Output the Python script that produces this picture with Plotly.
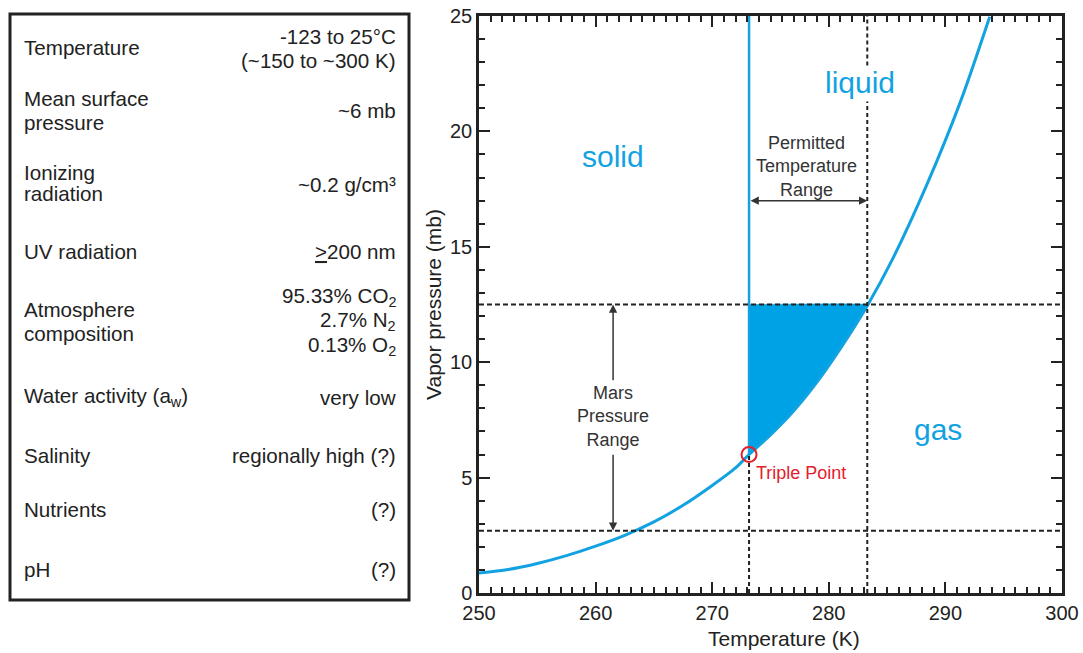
import plotly.graph_objects as go

W, H = 1083, 653

# ---------------- data ----------------
curve_T = [250, 252.5, 255, 257.5, 260, 262.5, 265, 267.5, 270, 272, 273.16,
           275, 277, 279, 281, 283.3, 285.5, 288.4, 291.3, 293.8]
curve_P = [0.87, 1.02, 1.28, 1.62, 2.03, 2.50, 3.08, 3.80, 4.66, 5.42, 6.0,
           6.85, 7.9, 9.15, 10.6, 12.45, 14.5, 17.68, 21.3, 24.97]
triple_T, triple_P = 273.16, 6.0
melt_top_P = 25
mars_P_range = [2.7, 12.5]
permit_T_range = [273.16, 283.3]
phase_labels = ["solid", "liquid", "gas"]
phase_T = [261.5, 282.7, 289.4]
phase_P = [18.9, 22.1, 7.1]

table_labels = ["Temperature", "Mean surface", "pressure", "Ionizing", "radiation",
                "UV radiation", "Atmosphere", "composition",
                "Water activity (a<sub>w</sub>)", "Salinity", "Nutrients", "pH"]
table_values = ["-123 to 25°C", "(~150 to ~300 K)", "~6 mb", "~0.2 g/cm³",
                "<u>&gt;</u>200 nm", "95.33% CO<sub>2</sub>", "2.7% N<sub>2</sub>",
                "0.13% O<sub>2</sub>", "very low", "regionally high (?)", "(?)", "(?)"]

# ---------------- layout helpers (pixel positions) ----------------
label_y = [47, 99, 122, 172, 194, 252, 309, 333, 397, 455, 509, 569]
value_y = [36, 60, 111, 184, 252, 297, 321, 346, 397, 455, 509, 569]

FONT = "Liberation Sans, Arial, Helvetica, sans-serif"
BLUE = "#12a2e2"
FILL = "#00a2e6"
RED = "#e4202b"
DARK = "#222222"
TXT = "#333333"


def px(x):
    return x / W


def py(y):
    return 1 - y / H


fig = go.Figure()

# Permitted liquid region fill
sel = [i for i, t in enumerate(curve_T) if triple_T < t <= permit_T_range[1]]
fill_x = [triple_T] + [curve_T[i] for i in sel] + [permit_T_range[1], triple_T]
fill_y = [triple_P] + [curve_P[i] for i in sel] + [mars_P_range[1], mars_P_range[1]]
fig.add_trace(go.Scatter(x=fill_x, y=fill_y, fill="toself", fillcolor=FILL,
                         line=dict(width=0.5, color=FILL, shape="spline", smoothing=0.4),
                         mode="lines", hoverinfo="skip"))

# vapour pressure curve
fig.add_trace(go.Scatter(x=curve_T, y=curve_P, mode="lines",
                         line=dict(color=BLUE, width=3, shape="spline", smoothing=0.8)))
# melting line
fig.add_trace(go.Scatter(x=[triple_T, triple_T], y=[triple_P, melt_top_P], mode="lines",
                         line=dict(color=BLUE, width=2.5)))

# dashed guide lines
dash_h = dict(color=DARK, width=2, dash="5px,3px")
dash_v = dict(color=DARK, width=2, dash="4px,3px")
shapes = []
for p in mars_P_range:
    shapes.append(dict(type="line", xref="x", yref="y", x0=250, x1=300, y0=p, y1=p, line=dash_h))
shapes.append(dict(type="line", xref="x", yref="y", x0=permit_T_range[1], x1=permit_T_range[1],
                   y0=0, y1=21.3, line=dash_v))
shapes.append(dict(type="line", xref="x", yref="y", x0=permit_T_range[1], x1=permit_T_range[1],
                   y0=22.85, y1=25, line=dash_v))
shapes.append(dict(type="line", xref="x", yref="y", x0=triple_T, x1=triple_T,
                   y0=0, y1=triple_P, line=dash_v))
# table box
shapes.append(dict(type="rect", xref="paper", yref="paper", x0=px(10), x1=px(409),
                   y0=py(600), y1=py(14), line=dict(color=DARK, width=3)))

# triple point marker
fig.add_trace(go.Scatter(x=[triple_T], y=[triple_P], mode="markers",
                         marker=dict(symbol="circle-open", size=15, color=RED,
                                     line=dict(width=2, color=RED))))

ann = []
for lab, t, p in zip(phase_labels, phase_T, phase_P):
    ann.append(dict(x=t, y=p, xref="x", yref="y", text=lab, showarrow=False,
                    xanchor="center", yanchor="middle",
                    font=dict(family=FONT, size=30, color=BLUE)))

ann.append(dict(x=273.55, y=5.2, xref="x", yref="y", text="Triple Point", showarrow=False,
                xanchor="left", yanchor="middle", font=dict(family=FONT, size=18, color=RED)))

# Mars pressure range arrows
ann.append(dict(x=261.5, y=mars_P_range[1], ax=261.5, ay=9.15, xref="x", yref="y",
                axref="x", ayref="y", text="", showarrow=True, arrowhead=2, arrowsize=1.1,
                arrowwidth=1.5, arrowcolor=TXT, standoff=0, startstandoff=0))
ann.append(dict(x=261.5, y=mars_P_range[0], ax=261.5, ay=6.05, xref="x", yref="y",
                axref="x", ayref="y", text="", showarrow=True, arrowhead=2, arrowsize=1.1,
                arrowwidth=1.5, arrowcolor=TXT, standoff=0, startstandoff=0))
ann.append(dict(x=261.5, y=7.63, xref="x", yref="y", text="Mars<br>Pressure<br>Range",
                showarrow=False, xanchor="center", yanchor="middle",
                font=dict(family=FONT, size=18, color=TXT)))

# Permitted temperature range arrow
ann.append(dict(x=permit_T_range[1], y=17.0, ax=permit_T_range[0], ay=17.0, xref="x", yref="y",
                axref="x", ayref="y", text="", showarrow=True, arrowhead=2, arrowside="end+start",
                arrowsize=1.1, arrowwidth=1.5, arrowcolor=TXT, standoff=0, startstandoff=0))
ann.append(dict(x=278.1, y=18.46, xref="x", yref="y", text="Permitted<br>Temperature<br>Range",
                showarrow=False, xanchor="center", yanchor="middle",
                font=dict(family=FONT, size=18, color=TXT)))

# axis titles
ann.append(dict(x=px(784), y=py(638), xref="paper", yref="paper", text="Temperature (K)",
                showarrow=False, xanchor="center", yanchor="middle",
                font=dict(family=FONT, size=21, color=DARK)))
ann.append(dict(x=px(433), y=py(305), xref="paper", yref="paper", text="Vapor pressure (mb)",
                showarrow=False, textangle=-90, xanchor="center", yanchor="middle",
                font=dict(family=FONT, size=21, color=DARK)))

# table text
for txt, y in zip(table_labels, label_y):
    ann.append(dict(x=px(22), y=py(y), xref="paper", yref="paper", text=txt, showarrow=False,
                    xanchor="left", yanchor="middle", font=dict(family=FONT, size=20.6, color=DARK)))
for txt, y in zip(table_values, value_y):
    ann.append(dict(x=px(398), y=py(y), xref="paper", yref="paper", text=txt, showarrow=False,
                    xanchor="right", yanchor="middle", font=dict(family=FONT, size=20.6, color=DARK)))

axis_common = dict(showline=True, linewidth=2.5, linecolor=DARK, mirror="ticks",
                   ticks="inside", ticklen=11, tickwidth=2, tickcolor=DARK,
                   showgrid=False, zeroline=False, automargin=False,
                   tickfont=dict(family=FONT, size=20, color=DARK))

fig.update_layout(
    template="none",
    width=W, height=H,
    autosize=False,
    margin=dict(l=0, r=0, t=0, b=0, pad=0, autoexpand=False),
    paper_bgcolor="white", plot_bgcolor="white",
    showlegend=False,
    shapes=shapes,
    annotations=ann,
    xaxis=dict(range=[250, 300], domain=[px(479), px(1062)], dtick=10,
               minor=dict(dtick=1, ticks="inside", ticklen=6, tickwidth=1.5, tickcolor=DARK),
               **axis_common),
    yaxis=dict(range=[0, 25], domain=[py(593), py(16)], dtick=5,
               minor=dict(dtick=1, ticks="inside", ticklen=6, tickwidth=1.5, tickcolor=DARK),
               **axis_common),
    font=dict(family=FONT),
)

fig.write_html("out.html", config={"displayModeBar": False},
               post_script="document.body.style.margin='0';document.body.style.padding='0';")
